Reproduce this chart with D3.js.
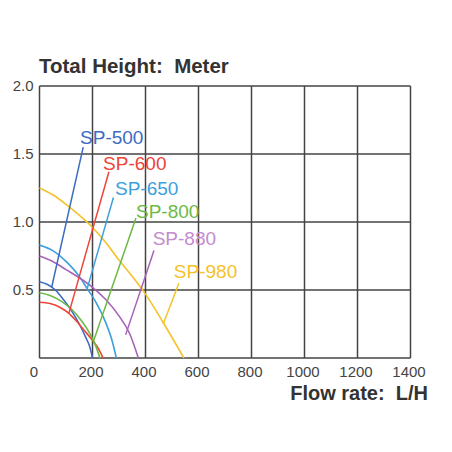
<!DOCTYPE html>
<html lang="en">
<head>
  <meta charset="UTF-8">
  <title>Pump curves</title>
  <style>
    body { margin: 0; background: #fff; }
    text { font-family: 'Liberation Sans', Arial, sans-serif; }
  </style>
</head>
<body>
  <svg id="svg" width="452" height="452"></svg>
  <script src="https://d3js.org/d3.v7.min.js"></script>
  <script>
    // flow (L/H) against total height (m)
    const sp500 = [[0, 0.56], [30, 0.54], [60, 0.5], [90, 0.43], [120, 0.35], [150, 0.25], [175, 0.15], [190, 0.08], [200, 0]]
    const sp600 = [[0, 0.41], [40, 0.4], [80, 0.37], [110, 0.33], [140, 0.27], [170, 0.2], [200, 0.13], [225, 0.06], [240, 0]]
    const sp650 = [[0, 0.83], [50, 0.79], [100, 0.71], [150, 0.6], [180, 0.51], [210, 0.42], [250, 0.26], [275, 0.12], [290, 0]]
    const sp800 = [[0, 0.48], [40, 0.46], [80, 0.42], [120, 0.36], [160, 0.27], [190, 0.18], [210, 0.1], [228, 0]]
    const sp880 = [[0, 0.75], [50, 0.71], [100, 0.65], [150, 0.59], [200, 0.52], [250, 0.43], [300, 0.31], [340, 0.18], [373, 0]]
    const sp980 = [[0, 1.25], [50, 1.2], [100, 1.13], [150, 1.05], [200, 0.96], [250, 0.85], [300, 0.72], [350, 0.6], [400, 0.47], [470, 0.25], [545, 0]]

    const models = ['SP-500', 'SP-600', 'SP-650', 'SP-800', 'SP-880', 'SP-980']
    const colors = ['#3c6cc2', '#ee4438', '#3d9fde', '#6cb946', '#a763b9', '#f4c229']
    const labelColors = ['#3c6cc2', '#ee4438', '#3d9fde', '#6cb946', '#c48bd0', '#f4c229']
    // leader lines: point on the curve -> point under the label
    const leaders = [
      [[46, 0.52], [165, 1.55]],
      [[111, 0.33], [262, 1.37]],
      [[180, 0.51], [279, 1.18]],
      [[203, 0.12], [364, 1.03]],
      [[325, 0.17], [432, 0.79]],
      [[467, 0.25], [526, 0.55]]
    ]
    // where each label's text starts (flow, height)
    const labelAt = [[153, 1.57], [240, 1.38], [285, 1.2], [364, 1.03], [427, 0.83], [507, 0.59]]

    const xTicks = [0, 200, 400, 600, 800, 1000, 1200, 1400]
    const yTicks = [0.5, 1.0, 1.5, 2.0]

    const series = [sp500, sp600, sp650, sp800, sp880, sp980]

    const xScale = d3.scaleLinear().domain([0, 1400]).range([39.5, 410.5])
    const yScale = d3.scaleLinear().domain([0, 2]).range([358, 86])

    const svg = d3.select('#svg')

    // grid
    svg.append('g')
      .selectAll('line')
      .data(xTicks)
      .join('line')
      .attr('x1', d => xScale(d))
      .attr('x2', d => xScale(d))
      .attr('y1', yScale(0))
      .attr('y2', yScale(2))
      .attr('stroke', '#444')
      .attr('stroke-width', 1.5)

    svg.append('g')
      .selectAll('line')
      .data([0].concat(yTicks))
      .join('line')
      .attr('x1', xScale(0))
      .attr('x2', xScale(1400))
      .attr('y1', d => yScale(d))
      .attr('y2', d => yScale(d))
      .attr('stroke', '#444')
      .attr('stroke-width', 1.5)

    // tick labels
    const xAxis = d3.axisBottom(xScale).tickValues(xTicks).tickSize(0).tickPadding(8).tickFormat(d3.format('d'))
    const gx = svg.append('g')
      .attr('transform', `translate(0,${yScale(0)})`)
      .call(xAxis)
    gx.select('.domain').remove()
    gx.selectAll('text')
      .attr('fill', '#444')
      .style('font-size', '15px')
      .attr('dx', d => d === 0 ? -6 : -2)

    const yAxis = d3.axisLeft(yScale).tickValues(yTicks).tickSize(0).tickPadding(6).tickFormat(d3.format('.1f'))
    const gy = svg.append('g')
      .attr('transform', `translate(${xScale(0)},0)`)
      .call(yAxis)
    gy.select('.domain').remove()
    gy.selectAll('text')
      .attr('fill', '#444')
      .style('font-size', '15px')

    // curves
    const line = d3.line()
      .x(d => xScale(d[0]))
      .y(d => yScale(d[1]))
      .curve(d3.curveMonotoneX)

    svg.append('g')
      .selectAll('path')
      .data(series)
      .join('path')
      .attr('d', line)
      .attr('fill', 'none')
      .attr('stroke', (d, i) => colors[i])
      .attr('stroke-width', 1.6)

    svg.append('g')
      .selectAll('line')
      .data(leaders)
      .join('line')
      .attr('x1', d => xScale(d[0][0]))
      .attr('y1', d => yScale(d[0][1]))
      .attr('x2', d => xScale(d[1][0]))
      .attr('y2', d => yScale(d[1][1]))
      .attr('stroke', (d, i) => colors[i])
      .attr('stroke-width', 1.5)

    svg.append('g')
      .selectAll('text')
      .data(models)
      .join('text')
      .text(d => d)
      .attr('x', (d, i) => xScale(labelAt[i][0]))
      .attr('y', (d, i) => yScale(labelAt[i][1]))
      .attr('fill', (d, i) => labelColors[i])
      .style('font-size', '19px')

    // titles
    svg.append('text')
      .text('Total Height:  Meter')
      .attr('x', 39)
      .attr('y', 73)
      .attr('fill', '#333')
      .style('font-size', '20.5px')
      .style('font-weight', 'bold')
      .style('white-space', 'pre')

    svg.append('text')
      .text('Flow rate:  L/H')
      .attr('x', 428)
      .attr('y', 400)
      .attr('text-anchor', 'end')
      .attr('fill', '#333')
      .style('font-size', '20px')
      .style('font-weight', 'bold')
      .style('white-space', 'pre')
  </script>
</body>
</html>
